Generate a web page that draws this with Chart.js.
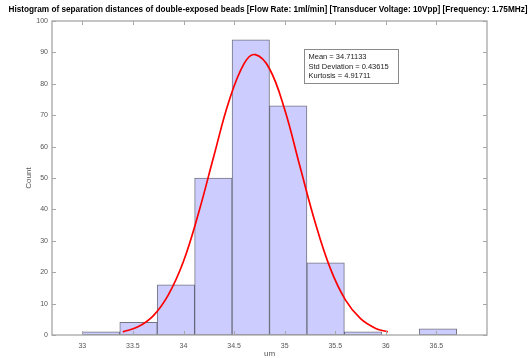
<!DOCTYPE html>
<html>
<head>
<meta charset="utf-8">
<script src="https://cdn.jsdelivr.net/npm/chart.js@4"></script>
<style>
  html, body { margin: 0; padding: 0; background: #fff; }
  #wrap { width: 531px; height: 358px; }
</style>
</head>
<body>
<div id="wrap"><canvas id="chart"></canvas></div>
<script>
// histogram bins (centres) and counts
const binCenters = [33.185, 33.555, 33.925, 34.295, 34.665, 35.035, 35.405, 35.775, 36.145, 36.515];
const binCounts = [1, 4, 16, 50, 94, 73, 23, 1, 0, 2];

// fitted curve
const curveX = [33.40, 33.55, 33.70, 33.85, 34.00, 34.15, 34.30, 34.45, 34.60, 34.71, 34.85, 35.00, 35.15, 35.30, 35.45, 35.60, 35.75, 35.90, 36.02];
const curveY = [1.0, 2.6, 6.1, 12.8, 23.5, 39, 57, 74.5, 86.5, 89.3, 84.8, 71.8, 53.8, 36, 21.3, 11.2, 5.2, 2.1, 1.0];

const xTicks = [33, 33.5, 34, 34.5, 35, 35.5, 36, 36.5];
const statLines = ["Mean = 34.71133", "Std Deviation = 0.43615", "Kurtosis = 4.91711"];
const titleText = "Histogram of separation distances of double-exposed beads [Flow Rate: 1ml/min] [Transducer Voltage: 10Vpp] [Frequency: 1.75MHz]";

const FONT = "'Liberation Sans', Arial, sans-serif";
const TICK_COLOR = "#555";

// title across the whole canvas
const titleDraw = {
    id: "titleDraw",
    afterDraw(chart) {
        const ctx = chart.ctx;
        ctx.save();
        ctx.font = "bold 9px " + FONT;
        const w = ctx.measureText(titleText).width;
        const size = 9 * 520 / w;
        ctx.font = "bold " + size.toFixed(2) + "px " + FONT;
        ctx.fillStyle = "#000";
        ctx.textAlign = "center";
        ctx.textBaseline = "middle";
        ctx.fillText(titleText, 268, 10);
        ctx.restore();
    }
};

// box, inward ticks and stats box, MATLAB style
const axesBox = {
    id: "axesBox",
    afterDatasetsDraw(chart) {
        const { ctx, chartArea: a, scales: { x, y } } = chart;
        ctx.save();
        ctx.strokeStyle = "#a6a6a6";
        ctx.lineWidth = 1;
        ctx.beginPath();
        xTicks.forEach(v => {
            const px = Math.round(x.getPixelForValue(v)) + 0.5;
            ctx.moveTo(px, a.bottom); ctx.lineTo(px, a.bottom - 4);
            ctx.moveTo(px, a.top); ctx.lineTo(px, a.top + 4);
        });
        y.ticks.forEach(t => {
            const py = Math.round(y.getPixelForValue(t.value)) + 0.5;
            ctx.moveTo(a.left, py); ctx.lineTo(a.left + 4, py);
            ctx.moveTo(a.right, py); ctx.lineTo(a.right - 4, py);
        });
        ctx.stroke();
        ctx.lineWidth = 1.3;
        ctx.strokeRect(a.left, a.top, a.right - a.left, a.bottom - a.top);

        // stats box
        const bx = 304.5, by = 49.5, bw = 94, bh = 34;
        ctx.fillStyle = "#fff";
        ctx.fillRect(bx, by, bw, bh);
        ctx.strokeStyle = "#8a8a8a";
        ctx.lineWidth = 1;
        ctx.strokeRect(bx, by, bw, bh);
        ctx.fillStyle = "#222";
        ctx.font = "7.5px " + FONT;
        ctx.textBaseline = "middle";
        statLines.forEach((s, i) => ctx.fillText(s, bx + 4, by + 7.5 + i * 9.7));
        ctx.restore();
    }
};

new Chart(document.getElementById("chart"), {
    type: "bar",
    data: {
        datasets: [
            {
                type: "line",
                data: curveX.map((v, i) => ({ x: v, y: curveY[i] })),
                borderColor: "#ff0000",
                borderWidth: 1.7,
                pointRadius: 0,
                tension: 0.4,
                order: 0
            },
            {
                data: binCenters.map((v, i) => ({ x: v, y: binCounts[i] })),
                backgroundColor: "#ccccff",
                borderColor: "rgba(70,70,90,0.75)",
                borderWidth: 1,
                borderSkipped: false,
                categoryPercentage: 1,
                barPercentage: 1,
                order: 1
            }
        ]
    },
    options: {
        responsive: true,
        maintainAspectRatio: false,
        animation: false,
        layout: { padding: { left: 0, right: 44, top: 21, bottom: 0 } },
        plugins: {
            legend: { display: false },
            tooltip: { enabled: false },
            title: { display: false }
        },
        scales: {
            x: {
                type: "linear",
                min: 32.7,
                max: 37,
                offset: false,
                grid: { display: false, drawTicks: false },
                border: { display: false },
                afterBuildTicks: s => { s.ticks = xTicks.map(v => ({ value: v })); },
                afterFit: s => { s.height = 23; },
                ticks: {
                    color: TICK_COLOR,
                    font: { family: FONT, size: 7 },
                    padding: 7,
                    maxRotation: 0,
                    autoSkip: false,
                    callback: v => String(v)
                },
                title: {
                    display: true,
                    text: "um",
                    color: TICK_COLOR,
                    font: { family: FONT, size: 8, lineHeight: 1 },
                    padding: { top: 0, bottom: 0 }
                }
            },
            y: {
                min: 0,
                max: 100,
                grid: { display: false, drawTicks: false },
                border: { display: false },
                afterFit: s => { s.width = 52; },
                ticks: {
                    stepSize: 10,
                    color: TICK_COLOR,
                    font: { family: FONT, size: 7 },
                    padding: 4
                },
                title: {
                    display: true,
                    text: "Count",
                    color: TICK_COLOR,
                    font: { family: FONT, size: 8, lineHeight: 1.2 },
                    padding: { top: 24, bottom: 0 }
                }
            }
        }
    },
    plugins: [axesBox, titleDraw]
});
</script>
</body>
</html>
